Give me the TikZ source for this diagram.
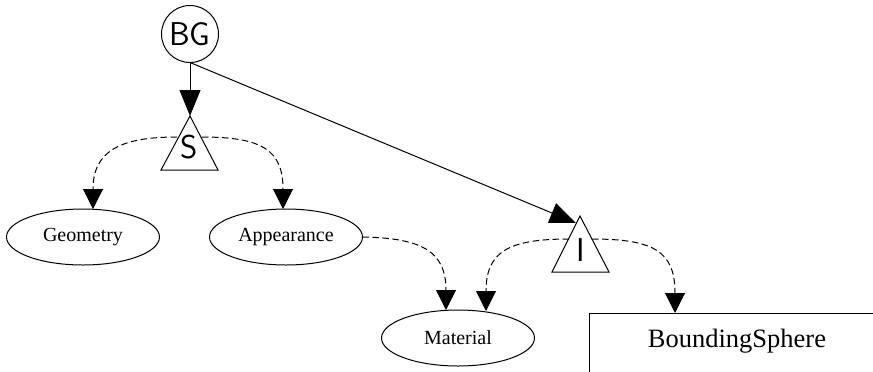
\documentclass[tikz,border=0pt]{standalone}
\usepackage{fontspec}
\setmainfont{Liberation Serif}
\usetikzlibrary{arrows.meta,shapes.geometric}
\begin{document}
\begin{tikzpicture}[x=1bp,y=-1bp,
  every node/.style={inner sep=0pt, outer sep=0pt},
  leaf/.style={draw, ellipse, line width=1bp, minimum width=153bp, minimum height=56bp,
               font=\fontsize{20bp}{24bp}\selectfont},
  grplabel/.style={font=\sffamily\fontsize{33bp}{38bp}\selectfont},
  tri/.style={draw, line width=1bp, line join=miter},
  link/.style={line width=1bp, -{Triangle[length=26bp,width=21bp]}},
  reflink/.style={line width=1bp, dash pattern=on 6.5bp off 3.5bp,
                  -{Triangle[length=20bp,width=20bp]}},
]
\useasboundingbox (0,0) rectangle (873,371);

% root group
\node[draw, circle, line width=1bp, minimum size=57bp, grplabel] (BG) at (190,34) {BG};

% shared group S
\coordinate (Stop) at (190,116);
\draw[tri] (Stop) -- (161,170) -- (218,170) -- cycle;
\node[grplabel] (S) at (189,147) {S};
\coordinate (Sl) at (177,137);
\coordinate (Sr) at (202,137);

% inline group I
\coordinate (Itop) at (580,216);
\draw[tri] (Itop) -- (552,272) -- (609,272) -- cycle;
\node[grplabel] (I) at (581,250) {I};
\coordinate (Iin) at (576,223);
\coordinate (Il) at (569,239);
\coordinate (Ir) at (592,239);

% leaves
\node[leaf] (geo) at (83,237) {Geometry};
\node[leaf] (app) at (286,237) {Appearance};
\node[leaf] (mat) at (458,338) {Material};

% bounding sphere box, running past the page edge
\begin{scope}
  \clip (0,0) rectangle (873,371);
  \node[draw, line width=1bp, anchor=north west, minimum width=330bp, minimum height=100bp]
    (bsbox) at (589,313) {};
\end{scope}
\node[font=\fontsize{26.5bp}{30bp}\selectfont] (bs) at (737,341) {BoundingSphere};

% solid edges
\draw[link] (BG.south) -- (Stop);
\draw[link] (BG.south) -- (Iin);

% dashed references
\draw[reflink] (Sl) .. controls (122,137) and (93,150) .. ([xshift=10bp]geo.north);
\draw[reflink] (Sr) .. controls (262,137) and (283,150) .. ([xshift=-3bp]app.north);
\draw[reflink] (app.east) .. controls (423,238) and (446,252) .. ([xshift=-12bp]mat.north);
\draw[reflink] (Il) .. controls (508,239) and (486,252) .. ([xshift=28bp,yshift=-1bp]mat.north);
\draw[reflink] (Ir) .. controls (655,239) and (675,252) .. (bsbox.north west -| 675,0);
\end{tikzpicture}
\end{document}
